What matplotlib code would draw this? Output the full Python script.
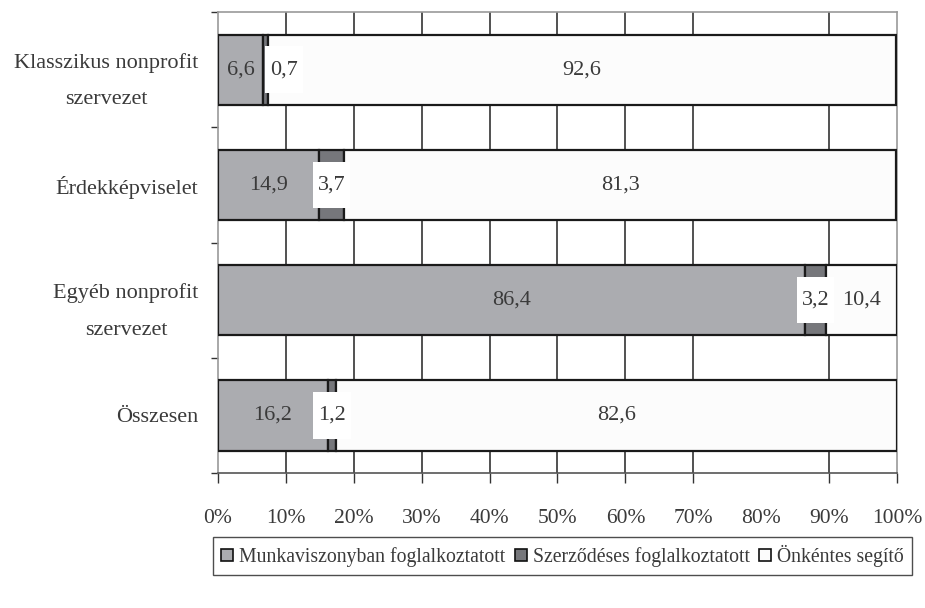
import matplotlib
matplotlib.use("Agg")
import matplotlib.pyplot as plt
from matplotlib.path import Path
import numpy as np

categories = ["Klasszikus nonprofit\nszervezet", "Érdekképviselet",
              "Egyéb nonprofit\nszervezet", "Összesen"]
series_names = ["Munkaviszonyban foglalkoztatott", "Szerződéses foglalkoztatott",
                "Önkéntes segítő"]
munka = [6.6, 14.9, 86.4, 16.2]
szerz = [0.7, 3.7, 3.2, 1.2]
onkentes = [92.6, 81.3, 10.4, 82.6]
tick_values = [0, 10, 20, 30, 40, 50, 60, 70, 80, 90, 100]
tick_labels = ["0%", "10%", "20%", "30%", "40%", "50%", "60%", "70%", "80%", "90%", "100%"]

colors = ["#abacb0", "#76777b", "#fcfcfc"]

plt.rcParams['font.family'] = ['Liberation Serif', 'DejaVu Serif']

fig = plt.figure(figsize=(9.25, 6.08), dpi=100)
ax = fig.add_axes([0.2357, 0.222, 0.734, 0.758])

y = np.arange(len(categories))
series = [munka, szerz, onkentes]
left = np.zeros(len(categories))
bars_all = []
for vals, col, name in zip(series, colors, series_names):
    b = ax.barh(y, vals, left=left, height=0.61, color=col, edgecolor="#1a1a1a",
                linewidth=1.6, label=name, zorder=3)
    bars_all.append((b, vals, left.copy()))
    left = left + np.array(vals)

ax.set_xlim(0, 100)
ax.set_ylim(len(categories) - 0.5, -0.5)


def tall_box(x0, y0, width, height, mutation_size):
    px = 0.22 * mutation_size
    py = 0.62 * mutation_size
    x0 -= px; y0 -= py
    x1 = x0 + width + 2 * px
    y1 = y0 + height + 2 * py
    return Path([(x0, y0), (x1, y0), (x1, y1), (x0, y1), (x0, y0)], closed=True)


label_fs = 16
for si, (b, vals, lefts) in enumerate(bars_all):
    for ci, v in enumerate(vals):
        cx = lefts[ci] + v / 2
        txt = f"{v:.1f}".replace(".", ",")
        dx = 0
        kw = {}
        if si == 1:
            kw["bbox"] = dict(boxstyle=tall_box, facecolor="white", edgecolor="none")
            if ci == 0:
                dx = 19
        ax.annotate(txt, (cx, ci), xytext=(dx, 0), textcoords="offset pixels",
                    ha="center", va="center", fontsize=label_fs, color="#3a3a3a",
                    zorder=5, **kw)

# x axis ticks and grid (80% line is absent in the reference)
ax.set_xticks(tick_values)
ax.set_xticklabels(tick_labels, fontsize=15.5, color="#3a3a3a")
ax.tick_params(axis="x", direction="out", length=7, width=1, color="#333333", pad=19)
for t, v in zip(ax.xaxis.get_major_ticks(), tick_values):
    if v == 80:
        t.tick1line.set_visible(False)
for v in tick_values[1:-1]:
    if v != 80:
        ax.axvline(v, color="#222222", linewidth=1.1, zorder=1)

# y axis
ax.set_yticks(np.arange(-0.5, len(categories), 1.0))
ax.set_yticklabels([])
ax.set_yticks(y, minor=True)
ax.set_yticklabels(categories, minor=True, fontsize=16, color="#3a3a3a",
                   multialignment="center", linespacing=2.25)
ax.tick_params(axis="y", which="major", direction="out", length=5, width=1, color="#333333")
ax.tick_params(axis="y", which="minor", length=0, pad=14)

for s in ["top", "right", "left"]:
    ax.spines[s].set_color("#999999")
    ax.spines[s].set_linewidth(1.2)
ax.spines["bottom"].set_color("#555555")
ax.spines["bottom"].set_linewidth(1.2)

leg = fig.legend(loc="center", bbox_to_anchor=(0.608, 0.0855), ncol=3, fontsize=14.2,
                 frameon=True, fancybox=False, edgecolor="#222222", handlelength=0.6,
                 handleheight=0.6, handletextpad=0.3, columnspacing=0.5,
                 borderpad=0.4, labelcolor="#3a3a3a")
leg.get_frame().set_linewidth(1.0)
for h in leg.legend_handles:
    h.set_edgecolor("#111111")
    h.set_linewidth(1.2)

fig.savefig("out.png", dpi=100, facecolor="white")
